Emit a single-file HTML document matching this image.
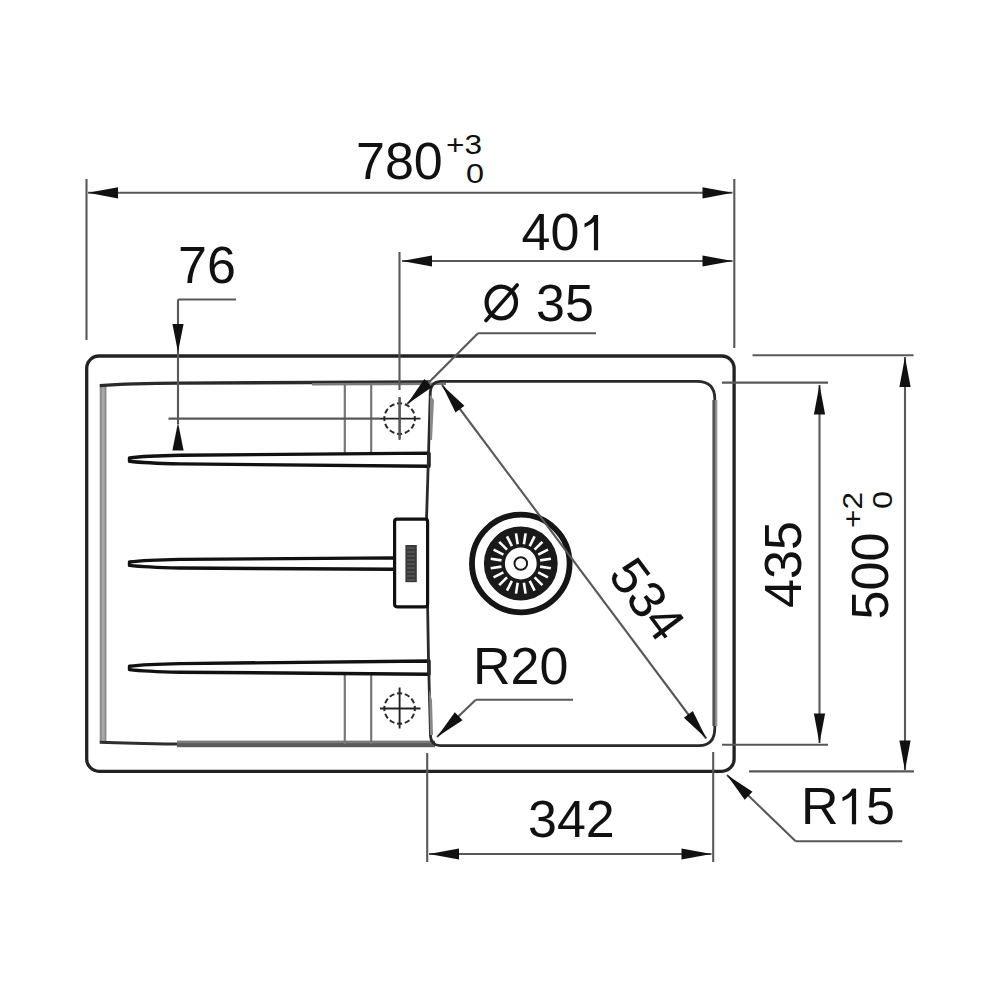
<!DOCTYPE html>
<html><head><meta charset="utf-8"><style>
html,body{margin:0;padding:0;background:#fff;}
svg{display:block;}
text{font-family:"Liberation Sans", sans-serif;fill:#111;}
</style></head><body>
<svg width="1000" height="1000" viewBox="0 0 1000 1000">
<rect width="1000" height="1000" fill="#fff"/>
<rect x="86.7" y="356" width="647.4" height="415.3" rx="12.3" ry="12.3" fill="none" stroke="#222" stroke-width="3.3"/>
<rect x="99.6" y="385" width="6.8" height="358" fill="#a8a8a8"/>
<rect x="100.2" y="385" width="1.6" height="358" fill="#8a8a8a"/>
<rect x="104.6" y="385" width="1.6" height="358" fill="#8a8a8a"/>
<path d="M99.8,385.6 Q130,383.4 180,383.1 L430,382" fill="none" stroke="#2a2a2a" stroke-width="3.4"/>
<path d="M312,384.2 L446,383.8" fill="none" stroke="#7a7a7a" stroke-width="2.6"/>
<path d="M99.8,742.2 Q130,743.5 177,744 L430,744.2" fill="none" stroke="#2e2e2e" stroke-width="3"/>
<rect x="177" y="740.8" width="258" height="6.4" fill="#5a5a5a"/>
<rect x="177" y="740.8" width="256" height="2.4" fill="#7a7a7a"/>
<line x1="344.8" y1="384" x2="344.8" y2="453.5" stroke="#777" stroke-width="2.2" />
<line x1="344.8" y1="673" x2="344.8" y2="744" stroke="#777" stroke-width="2.2" />
<line x1="371.2" y1="384" x2="371.2" y2="453.5" stroke="#777" stroke-width="2.2" />
<line x1="371.2" y1="673" x2="371.2" y2="744" stroke="#777" stroke-width="2.2" />
<circle cx="399.6" cy="418.6" r="15.3" fill="none" stroke="#2a2a2a" stroke-width="2" pathLength="120" stroke-dasharray="6.6 3.4" stroke-dashoffset="3.3"/>
<line x1="380" y1="418.6" x2="420.5" y2="418.6" stroke="#222" stroke-width="1.9" />
<line x1="399.6" y1="397.6" x2="399.6" y2="438.6" stroke="#222" stroke-width="1.9" />
<circle cx="399.6" cy="708.5" r="15.3" fill="none" stroke="#2a2a2a" stroke-width="2" pathLength="120" stroke-dasharray="6.6 3.4" stroke-dashoffset="3.3"/>
<line x1="380" y1="708.5" x2="420.5" y2="708.5" stroke="#222" stroke-width="1.9" />
<line x1="399.6" y1="687.5" x2="399.6" y2="728.5" stroke="#222" stroke-width="1.9" />
<path d="M129.5,457.9 Q145,456.0 180,455.3 L429,453.1 L429,466.3 L180,463.9 Q145,463.2 129.5,461.3 Z" fill="#fff" stroke="#111" stroke-width="3.4" stroke-linejoin="round"/>
<path d="M129.5,562.0 Q145,560.1 180,559.4 L395,557.9 L395,569.3 L180,568.0 Q145,567.3 129.5,565.4 Z" fill="#fff" stroke="#111" stroke-width="3.4" stroke-linejoin="round"/>
<path d="M129.5,666.2 Q145,664.3 180,663.6 L429,661.0 L429,674.2 L180,672.2 Q145,671.5 129.5,669.6 Z" fill="#fff" stroke="#111" stroke-width="3.4" stroke-linejoin="round"/>
<path d="M446,381.3 L697,381.3 Q714.8,381.3 714.8,399 L714.8,728 Q714.8,745.6 699,745.6 L440,745.6 Q431,745.2 430.5,736 L428.5,660 L427.5,600 L426.5,520 L428.5,455 L430.3,392 Q430.8,382 440,381.3 Z" fill="none" stroke="#2a2a2a" stroke-width="2.8"/>
<rect x="712.4" y="400" width="2.8" height="326" fill="#555"/>
<rect x="715.2" y="400" width="2.2" height="326" fill="#9a9a9a"/>
<path d="M430,395 L434,400 L432,440 L430,440 Z" fill="#888"/>
<path d="M429,690 L432,700 L433,735 L430,735 Z" fill="#888"/>
<rect x="394.6" y="519.2" width="33" height="87.6" rx="2.5" fill="#fff" stroke="#111" stroke-width="3.2"/>
<rect x="405.4" y="545" width="11.4" height="37.2" fill="#3a3a3a"/>
<line x1="407" y1="548" x2="415" y2="548" stroke="#666" stroke-width="1"/>
<line x1="407" y1="552" x2="415" y2="552" stroke="#666" stroke-width="1"/>
<line x1="407" y1="556" x2="415" y2="556" stroke="#666" stroke-width="1"/>
<line x1="407" y1="560" x2="415" y2="560" stroke="#666" stroke-width="1"/>
<line x1="407" y1="564" x2="415" y2="564" stroke="#666" stroke-width="1"/>
<line x1="407" y1="568" x2="415" y2="568" stroke="#666" stroke-width="1"/>
<line x1="407" y1="572" x2="415" y2="572" stroke="#666" stroke-width="1"/>
<line x1="407" y1="576" x2="415" y2="576" stroke="#666" stroke-width="1"/>
<line x1="407" y1="580" x2="415" y2="580" stroke="#666" stroke-width="1"/>
<circle cx="520.8" cy="563.5" r="48.8" fill="none" stroke="#151515" stroke-width="5.8"/>
<circle cx="520.8" cy="563.5" r="26.4" fill="none" stroke="#1a1a1a" stroke-width="21"/>
<line x1="523.9" y1="544.2" x2="525.6" y2="533.4" stroke="#fff" stroke-width="2.6"/>
<line x1="529.7" y1="546.1" x2="534.6" y2="536.3" stroke="#fff" stroke-width="2.6"/>
<line x1="534.6" y1="549.7" x2="542.4" y2="541.9" stroke="#fff" stroke-width="2.6"/>
<line x1="538.2" y1="554.6" x2="548.0" y2="549.7" stroke="#fff" stroke-width="2.6"/>
<line x1="540.1" y1="560.4" x2="550.9" y2="558.7" stroke="#fff" stroke-width="2.6"/>
<line x1="540.1" y1="566.6" x2="550.9" y2="568.3" stroke="#fff" stroke-width="2.6"/>
<line x1="538.2" y1="572.4" x2="548.0" y2="577.3" stroke="#fff" stroke-width="2.6"/>
<line x1="534.6" y1="577.3" x2="542.4" y2="585.1" stroke="#fff" stroke-width="2.6"/>
<line x1="529.7" y1="580.9" x2="534.6" y2="590.7" stroke="#fff" stroke-width="2.6"/>
<line x1="523.9" y1="582.8" x2="525.6" y2="593.6" stroke="#fff" stroke-width="2.6"/>
<line x1="517.7" y1="582.8" x2="516.0" y2="593.6" stroke="#fff" stroke-width="2.6"/>
<line x1="511.9" y1="580.9" x2="507.0" y2="590.7" stroke="#fff" stroke-width="2.6"/>
<line x1="507.0" y1="577.3" x2="499.2" y2="585.1" stroke="#fff" stroke-width="2.6"/>
<line x1="503.4" y1="572.4" x2="493.6" y2="577.3" stroke="#fff" stroke-width="2.6"/>
<line x1="501.5" y1="566.6" x2="490.7" y2="568.3" stroke="#fff" stroke-width="2.6"/>
<line x1="501.5" y1="560.4" x2="490.7" y2="558.7" stroke="#fff" stroke-width="2.6"/>
<line x1="503.4" y1="554.6" x2="493.6" y2="549.7" stroke="#fff" stroke-width="2.6"/>
<line x1="507.0" y1="549.7" x2="499.2" y2="541.9" stroke="#fff" stroke-width="2.6"/>
<line x1="511.9" y1="546.1" x2="507.0" y2="536.3" stroke="#fff" stroke-width="2.6"/>
<line x1="517.7" y1="544.2" x2="516.0" y2="533.4" stroke="#fff" stroke-width="2.6"/>
<circle cx="520.8" cy="563.5" r="6.3" fill="none" stroke="#1a1a1a" stroke-width="2"/>
<line x1="86.5" y1="179" x2="86.5" y2="340" stroke="#585858" stroke-width="2.1" />
<line x1="734.3" y1="179" x2="734.3" y2="348" stroke="#585858" stroke-width="2.1" />
<line x1="88" y1="192.8" x2="732.5" y2="192.8" stroke="#585858" stroke-width="2.1" />
<path d="M88.0,192.8 L118.0,187.2 L118.0,198.4 Z" fill="#111"/>
<path d="M732.5,192.8 L702.5,198.4 L702.5,187.2 Z" fill="#111"/>
<text x="356" y="179" font-size="52" text-anchor="start" >780</text>
<text x="0" y="0" font-size="27" text-anchor="start" transform="translate(446,153.5) scale(1.17,1)" >+3</text>
<text x="0" y="0" font-size="27" text-anchor="start" transform="translate(466,182.6) scale(1.2,1)" >0</text>
<line x1="399.5" y1="252" x2="399.5" y2="390" stroke="#585858" stroke-width="2.1" />
<line x1="399.6" y1="397" x2="399.6" y2="440" stroke="#585858" stroke-width="2.1" />
<line x1="402" y1="261" x2="732.5" y2="261" stroke="#585858" stroke-width="2.1" />
<path d="M402.0,261.0 L432.0,255.4 L432.0,266.6 Z" fill="#111"/>
<path d="M732.5,261.0 L702.5,266.6 L702.5,255.4 Z" fill="#111"/>
<text x="521.5" y="250" font-size="52" text-anchor="start" >40</text>
<path d="M593.9,215.0 L598.1,215.0 L598.1,250.3 L593.9,250.3 Z" fill="#111"/>
<path d="M593.9,215.0 L597.6,215.0 L597.6,219.0 Q591.0,225.0 584.5,227.5 L584.5,223.5 Q591.0,221.0 593.9,215.0 Z" fill="#111"/>
<line x1="178" y1="299.5" x2="236" y2="299.5" stroke="#585858" stroke-width="2.1" />
<line x1="178" y1="299.5" x2="178" y2="424" stroke="#585858" stroke-width="2.1" />
<path d="M178.0,352.0 L172.4,324.0 L183.6,324.0 Z" fill="#111"/>
<path d="M178.0,422.5 L183.6,450.5 L172.4,450.5 Z" fill="#111"/>
<line x1="168.5" y1="418.6" x2="380" y2="418.6" stroke="#585858" stroke-width="2.1" />
<text x="178" y="283" font-size="52" text-anchor="start" >76</text>
<line x1="596" y1="333.2" x2="478" y2="333.2" stroke="#585858" stroke-width="2.1" />
<line x1="478" y1="333.2" x2="407" y2="404.2" stroke="#585858" stroke-width="2.1" />
<path d="M407.0,404.2 L424.3,379.0 L432.2,386.9 Z" fill="#111"/>
<text x="536" y="321" font-size="52" text-anchor="start" >35</text>
<ellipse cx="501.3" cy="302.5" rx="14.7" ry="15.9" fill="none" stroke="#111" stroke-width="4.2"/>
<line x1="486" y1="320.5" x2="517.2" y2="285" stroke="#111" stroke-width="3.6" stroke-linecap="round"/>
<line x1="442" y1="385" x2="706.3" y2="738.5" stroke="#585858" stroke-width="2.1" />
<path d="M442.0,385.0 L464.4,405.7 L455.5,412.4 Z" fill="#111"/>
<path d="M706.3,738.5 L683.9,717.8 L692.8,711.1 Z" fill="#111"/>
<text x="0" y="0" font-size="52" text-anchor="middle" transform="translate(633,610) rotate(53.2)" >534</text>
<line x1="722" y1="382.6" x2="828" y2="382.6" stroke="#585858" stroke-width="2.1" />
<line x1="722" y1="744.8" x2="828" y2="744.8" stroke="#585858" stroke-width="2.1" />
<line x1="819.5" y1="385" x2="819.5" y2="743" stroke="#585858" stroke-width="2.1" />
<path d="M819.5,384.5 L825.1,414.5 L813.9,414.5 Z" fill="#111"/>
<path d="M819.5,743.5 L813.9,713.5 L825.1,713.5 Z" fill="#111"/>
<text x="0" y="0" font-size="52" text-anchor="middle" transform="translate(801,564.5) rotate(-90)" >435</text>
<line x1="752.5" y1="355.3" x2="913.6" y2="355.3" stroke="#585858" stroke-width="2.1" />
<line x1="749" y1="771.4" x2="914" y2="771.4" stroke="#585858" stroke-width="2.1" />
<line x1="905" y1="357" x2="905" y2="770" stroke="#585858" stroke-width="2.1" />
<path d="M905.0,357.0 L910.6,387.0 L899.4,387.0 Z" fill="#111"/>
<path d="M905.0,770.5 L899.4,740.5 L910.6,740.5 Z" fill="#111"/>
<text x="0" y="0" font-size="52" text-anchor="middle" transform="translate(888,576) rotate(-90)" >500</text>
<text x="0" y="0" font-size="27" text-anchor="start" transform="translate(862,528) rotate(-90) scale(1.17,1)" >+2</text>
<text x="0" y="0" font-size="27" text-anchor="start" transform="translate(892,509) rotate(-90) scale(1.2,1)" >0</text>
<line x1="427.2" y1="753" x2="427.2" y2="862" stroke="#585858" stroke-width="2.1" />
<line x1="713.2" y1="752" x2="713.2" y2="862" stroke="#585858" stroke-width="2.1" />
<line x1="429" y1="854" x2="711.5" y2="854" stroke="#585858" stroke-width="2.1" />
<path d="M429.0,854.0 L459.0,848.4 L459.0,859.6 Z" fill="#111"/>
<path d="M711.5,854.0 L681.5,859.6 L681.5,848.4 Z" fill="#111"/>
<text x="528" y="837" font-size="52" text-anchor="start" >342</text>
<line x1="573" y1="699.8" x2="475.8" y2="699.8" stroke="#585858" stroke-width="2.1" />
<line x1="475.8" y1="699.8" x2="437" y2="737" stroke="#585858" stroke-width="2.1" />
<path d="M437.0,737.0 L454.8,712.2 L462.5,720.3 Z" fill="#111"/>
<text x="473" y="684" font-size="52" text-anchor="start" >R20</text>
<line x1="902.3" y1="841.2" x2="795.7" y2="841.2" stroke="#585858" stroke-width="2.1" />
<line x1="795.7" y1="841.2" x2="727" y2="775" stroke="#585858" stroke-width="2.1" />
<path d="M727.0,775.0 L752.5,791.8 L744.7,799.8 Z" fill="#111"/>
<text x="801" y="824" font-size="52" text-anchor="start" >R</text>
<path d="M851.9,788.8 L856.1,788.8 L856.1,824.3 L851.9,824.3 Z" fill="#111"/>
<path d="M851.9,788.8 L855.6,788.8 L855.6,792.8 Q849.0,798.8 842.5,801.3 L842.5,797.3 Q849.0,794.8 851.9,788.8 Z" fill="#111"/>
<text x="866" y="824" font-size="52" text-anchor="start" >5</text>
</svg></body></html>
